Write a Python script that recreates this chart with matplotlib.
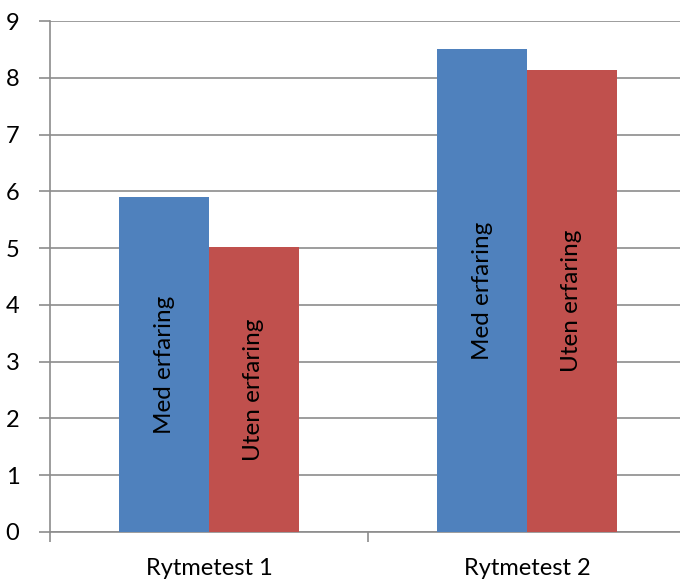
import matplotlib
matplotlib.use("Agg")
import matplotlib.pyplot as plt
import numpy as np

categories = ["Rytmetest 1", "Rytmetest 2"]
series_names = ["Med erfaring", "Uten erfaring"]
med_values = [5.9, 8.5]
uten_values = [5.02, 8.13]
y_ticks = list(range(0, 10))

plt.rcParams.update({"font.family": "Lato", "font.size": 17})

fig = plt.figure(figsize=(6.8, 5.83), dpi=100)
ax = fig.add_axes([50 / 680, 51 / 583, 636 / 680, 511 / 583])

x = np.arange(len(categories))
width = 0.283
colors = ["#4F81BD", "#C0504D"]
for offset, vals, name, color in ((-width / 2, med_values, series_names[0], colors[0]),
                                  (width / 2, uten_values, series_names[1], colors[1])):
    bars = ax.bar(x + offset, vals, width, color=color, zorder=3)
    for bar, v in zip(bars, vals):
        ax.text(bar.get_x() + bar.get_width() / 2, v / 2, name, rotation=90,
                ha="center", va="center", fontsize=17.5, zorder=4)

grid_color = "#8C8C8C"
ax.set_ylim(0, 9)
ax.set_xlim(-0.5, 1.5)
ax.set_yticks(y_ticks)
ax.yaxis.grid(True, color=grid_color, linewidth=1.2)
ax.set_axisbelow(True)

ax.set_xticks([-0.5, 0.5, 1.5])
ax.set_xticklabels([])
ax.set_xticks(x, minor=True)
ax.set_xticklabels(categories, minor=True)
ax.tick_params(axis="x", which="minor", length=0, pad=19)
ax.tick_params(axis="x", which="major", length=7, color=grid_color, width=1.2, direction="out")
ax.tick_params(axis="y", length=8, color=grid_color, width=1.2, pad=14)

for side in ("top", "right"):
    ax.spines[side].set_visible(False)
for side in ("left", "bottom"):
    ax.spines[side].set_color(grid_color)
    ax.spines[side].set_linewidth(1.2)

fig.savefig("out.png", dpi=100)
